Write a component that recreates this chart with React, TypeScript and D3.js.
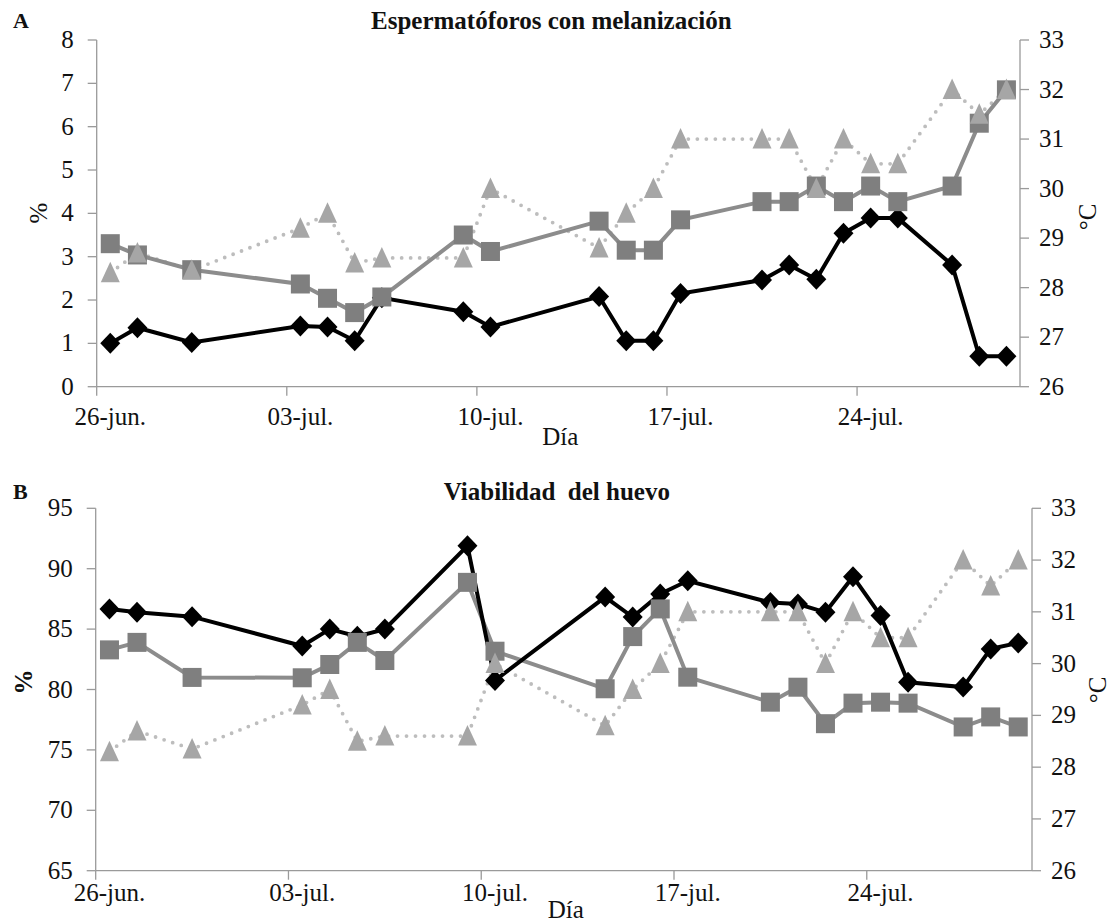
import * as d3 from "d3";

// dates of sampling (same for both panels)
const dates = ["26-jun", "27-jun", "29-jun", "03-jul", "04-jul", "05-jul", "06-jul", "09-jul", "10-jul", "14-jul", "15-jul",
  "16-jul", "17-jul", "20-jul", "21-jul", "22-jul", "23-jul", "24-jul", "25-jul", "27-jul", "28-jul", "29-jul"];

const tickLabels = ["26-jun.", "03-jul.", "10-jul.", "17-jul.", "24-jul."];

// mean temperature (°C), right axis
const temperature = [28.3, 28.7, 28.35, 29.2, 29.5, 28.5, 28.6, 28.6, 30.0, 28.8, 29.5, 30.0, 31.0, 31.0, 31.0, 30.0, 31.0,
  30.5, 30.5, 32.0, 31.5, 32.0];

// panel A: espermatóforos con melanización (%)
const melanA = [1.0, 1.36, 1.02, 1.4, 1.38, 1.06, 2.05, 1.73, 1.38, 2.08, 1.06, 1.06, 2.15, 2.46, 2.81, 2.48, 3.54, 3.89,
  3.89, 2.81, 0.7, 0.7];
const melanB = [3.3, 3.04, 2.7, 2.37, 2.04, 1.71, 2.07, 3.5, 3.12, 3.82, 3.15, 3.15, 3.85, 4.27, 4.27, 4.63, 4.27, 4.63,
  4.27, 4.63, 6.08, 6.85];

// panel B: viabilidad del huevo (%)
const viabA = [86.67, 86.39, 86.03, 83.6, 85.0, 84.4, 85.0, 91.9, 80.75, 87.65, 86.0, 87.9, 89.0, 87.2, 87.08, 86.39, 89.34,
  86.12, 80.6, 80.2, 83.36, 83.85];
const viabB = [83.28, 83.9, 81.0, 80.97, 82.07, 83.9, 82.4, 88.87, 83.17, 80.06, 84.38, 86.67, 81.02, 78.95, 80.19, 77.17,
  78.87, 78.95, 78.87, 76.9, 77.73, 76.9];

const parse = d3.timeParse("%d-%b");
const FONT = "'Liberation Serif', 'Times New Roman', serif";
const AXIS = "#9a9a9a";
const FS = 25;

type PanelProps = {
  letter: string;
  title: string;
  left: number; right: number; top: number; bottom: number;
  yDomain: [number, number]; yStep: number;
  black: number[]; grey: number[];
  pctBold: boolean;
  titleY: number; letterY: number; diaY: number; tickY: number;
  pctX: number; pctY: number; degX: number; degY: number;
};

function Panel(p: PanelProps) {
  const days = dates.map((d) => parse(d) as Date);
  const start = parse("26-jun") as Date;
  const end = parse("30-jul") as Date;
  const x = d3.scaleTime().domain([start, end]).range([p.left, p.right]);
  const half = (x(d3.timeDay.offset(start, 1)) - x(start)) / 2;
  const y = d3.scaleLinear().domain(p.yDomain).range([p.bottom, p.top]);
  const yT = d3.scaleLinear().domain([26, 33]).range([p.bottom, p.top]);
  const px = (i: number) => x(days[i]) + half;

  const lineL = d3.line<number>().x((_, i) => px(i)).y((d) => y(d));
  const lineT = d3.line<number>().x((_, i) => px(i)).y((d) => yT(d));

  const yTicks = d3.range(p.yDomain[0], p.yDomain[1] + 0.001, p.yStep);
  const tTicks = d3.range(26, 34);
  const xTicks = tickLabels.map((t) => parse(t.replace(".", "")) as Date);
  const cx = (p.left + p.right) / 2;

  const diamond = (a: number, b: number) => `M${a},${b - 10.5}L${a + 10},${b}L${a},${b + 10.5}L${a - 10},${b}Z`;
  const tri = (a: number, b: number) => `M${a},${b - 11}L${a + 9.5},${b + 9.5}L${a - 9.5},${b + 9.5}Z`;

  return (
    <g fontFamily={FONT} fill="#111">
      <text x={13} y={p.letterY} fontSize={22} fontWeight="bold">{p.letter}</text>
      <text x={cx - 7} y={p.titleY} fontSize={25} fontWeight="bold" textAnchor="middle"
        style={{ whiteSpace: "pre" }}>{p.title}</text>

      {/* axes */}
      <line x1={p.left} x2={p.left} y1={p.top} y2={p.bottom} stroke={AXIS} strokeWidth={1.3} />
      <line x1={p.right} x2={p.right} y1={p.top} y2={p.bottom} stroke={AXIS} strokeWidth={1.3} />
      <line x1={p.left} x2={p.right} y1={p.bottom} y2={p.bottom} stroke={AXIS} strokeWidth={1.3} />
      {yTicks.map((t) => (
        <g key={"l" + t}>
          <line x1={p.left - 9} x2={p.left} y1={y(t)} y2={y(t)} stroke={AXIS} strokeWidth={1.3} />
          <text x={p.left - 23} y={y(t) + 8} fontSize={FS} textAnchor="end">{t}</text>
        </g>
      ))}
      {tTicks.map((t) => (
        <g key={"r" + t}>
          <line x1={p.right} x2={p.right + 9} y1={yT(t)} y2={yT(t)} stroke={AXIS} strokeWidth={1.3} />
          <text x={p.right + 19} y={yT(t) + 8} fontSize={FS}>{t}</text>
        </g>
      ))}
      {xTicks.map((t, i) => (
        <g key={"x" + i}>
          <line x1={x(t)} x2={x(t)} y1={p.bottom} y2={p.bottom + 9} stroke={AXIS} strokeWidth={1.3} />
          <text x={x(t) + half} y={p.tickY} fontSize={FS} textAnchor="middle">{tickLabels[i]}</text>
        </g>
      ))}
      <text x={cx + 2} y={p.diaY} fontSize={FS} textAnchor="middle">Día</text>
      <text transform={`translate(${p.pctX},${p.pctY}) rotate(-90)`} fontSize={FS}
        fontWeight={p.pctBold ? "bold" : "normal"} textAnchor="middle">%</text>
      <text transform={`translate(${p.degX},${p.degY}) rotate(-90)`} fontSize={FS}
        textAnchor="middle">°C</text>

      {/* lines */}
      <path d={lineT(temperature) ?? ""} fill="none" stroke="#bdbdbd" strokeWidth={3.8}
        strokeLinecap="round" strokeDasharray="0 9" />
      <path d={lineL(p.grey) ?? ""} fill="none" stroke="#8c8c8c" strokeWidth={4} />
      <path d={lineL(p.black) ?? ""} fill="none" stroke="#000" strokeWidth={4} />

      {/* markers */}
      {p.black.map((v, i) => (
        <path key={"d" + i} d={diamond(px(i), y(v))} fill="#000" />
      ))}
      {p.grey.map((v, i) => (
        <rect key={"s" + i} x={px(i) - 9.5} y={y(v) - 9.5} width={19} height={19} fill="#7f7f7f" />
      ))}
      {temperature.map((v, i) => (
        <path key={"t" + i} d={tri(px(i), yT(v))} fill="#a6a6a6" />
      ))}
    </g>
  );
}

export default function App() {
  return (
    <svg width={1114} height={922} style={{ position: "absolute", left: 0, top: 0, background: "#fff" }}>
      <Panel letter="A" title="Espermatóforos con melanización" left={96.7} right={1020} top={40} bottom={386.7}
        yDomain={[0, 8]} yStep={1} black={melanA} grey={melanB} pctBold={false}
        titleY={29} letterY={28} diaY={445} tickY={425}
        pctX={47} pctY={213} degX={1096} degY={217} />
      <Panel letter="B" title="Viabilidad  del huevo" left={95.7} right={1032} top={508.3} bottom={870.7}
        yDomain={[65, 95]} yStep={5} black={viabA} grey={viabB} pctBold={true}
        titleY={500} letterY={499} diaY={918} tickY={901}
        pctX={32} pctY={682} degX={1106} degY={690} />
    </svg>
  );
}
